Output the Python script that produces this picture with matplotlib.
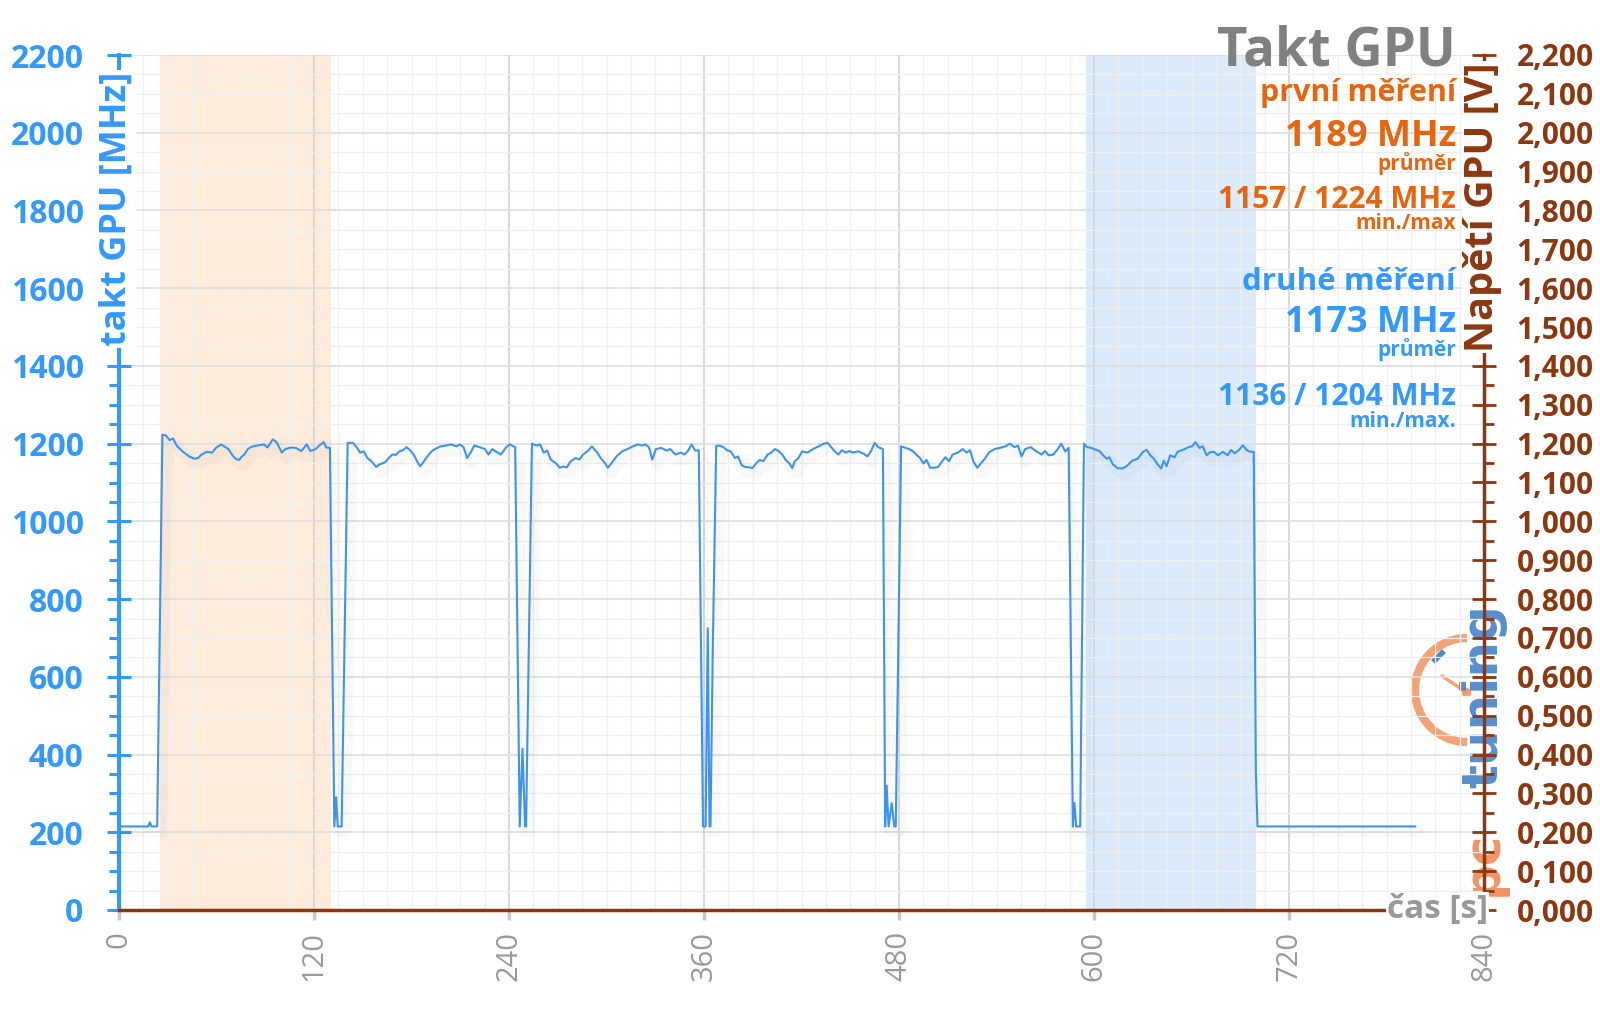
import numpy as np
import matplotlib
matplotlib.use('Agg')
import matplotlib.pyplot as plt
import matplotlib.patheffects as pe
from matplotlib.patches import Arc
from matplotlib.ticker import MultipleLocator, FuncFormatter

plt.rcParams['font.family'] = ['Open Sans', 'DejaVu Sans']

# GPU clock log: idle parts, six load runs and the dips between them
idle0_t = [0, 18, 19, 20, 23.5]
idle0_mhz = [215, 215, 226, 215, 215]

run1_t = [26.7, 28.9, 31.1, 33.3, 35.5, 38.8, 43.2, 46.4, 48.6, 50.8, 54.1, 57.4, 59.6, 62.9, 65.1,
          67.3, 69.5, 71.7, 73.9, 75.6, 77.1, 79.3, 81.5, 84.8, 89.2, 91.4, 94.7, 96.9, 100.2, 102.4,
          105.7, 108.9, 112.2, 115.5, 117.7, 121.0, 123.2, 126.0, 127.6, 129.8]
run1_mhz = [1223, 1221, 1209, 1213, 1195, 1181, 1167, 1161, 1163, 1172, 1179, 1177, 1189, 1198, 1192,
            1186, 1172, 1161, 1158, 1167, 1172, 1186, 1192, 1195, 1198, 1190, 1211, 1204, 1177, 1186,
            1190, 1189, 1181, 1198, 1181, 1186, 1195, 1204, 1190, 1189]
dip1_t = [132.5, 133.6, 134.6, 137.0]
dip1_mhz = [215, 290, 215, 215]

run2_t = [140.7, 144.0, 146.2, 148.4, 150.6, 152.8, 155.0, 158.3, 160.5, 163.8, 166.0, 168.2, 170.3, 172.5,
          174.7, 176.9, 179.1, 181.3, 183.5, 185.3, 186.8, 189.0, 192.3, 194.5, 197.8, 201.1, 204.3, 207.6,
          209.8, 212.0, 214.2, 216.4, 218.6, 221.9, 225.2, 227.4, 229.6, 232.9, 235.0, 238.3, 240.5, 243.8]
run2_mhz = [1202, 1202, 1191, 1177, 1180, 1163, 1156, 1140, 1147, 1152, 1163, 1172, 1171, 1180,
            1183, 1191, 1183, 1172, 1154, 1142, 1149, 1163, 1180, 1186, 1193, 1195, 1198, 1193,
            1198, 1191, 1163, 1177, 1195, 1191, 1186, 1172, 1186, 1177, 1172, 1191, 1198, 1191]
dip2_t = [246.6, 248.3, 249.9, 250.5]
dip2_mhz = [215, 415, 215, 215]

run3_t = [254.1, 257.0, 259.2, 261.3, 263.5, 265.7, 269.0, 271.2, 273.4, 275.6, 277.8, 281.1, 283.3, 285.5,
          288.8, 291.0, 294.3, 296.4, 299.3, 300.8, 303.0, 306.3, 309.6, 312.9, 316.2, 319.5, 321.7, 323.9,
          326.1, 328.2, 330.4, 333.7, 337.0, 339.2, 342.5, 345.8, 348.0, 350.2, 352.4, 354.6, 356.8]
run3_mhz = [1200, 1195, 1198, 1177, 1182, 1159, 1149, 1138, 1141, 1139, 1154, 1163, 1159, 1172,
            1182, 1193, 1177, 1163, 1149, 1138, 1149, 1168, 1180, 1186, 1193, 1198, 1195, 1198,
            1191, 1159, 1186, 1189, 1182, 1186, 1172, 1177, 1172, 1182, 1198, 1182, 1183]
dip3_t = [359.4, 361.0, 362.3, 363.4, 364.0, 365.3]
dip3_mhz = [215, 215, 725, 215, 215, 645]

run4_t = [367.5, 369.7, 371.9, 374.2, 376.4, 379.1, 380.9, 383.1, 385.3, 388.0, 389.8, 392.0, 394.3, 396.5,
          399.2, 401.4, 403.6, 405.9, 408.1, 410.3, 412.6, 414.3, 415.9, 418.1, 420.4, 423.7, 427.1, 430.4,
          433.8, 436.0, 438.2, 440.5, 442.7, 444.9, 447.2, 449.4, 451.6, 455.0, 458.3, 460.5, 462.8, 465.0,
          467.2, 470.1]
run4_mhz = [1194, 1195, 1191, 1183, 1180, 1163, 1167, 1145, 1140, 1139, 1137, 1149, 1158, 1155,
            1172, 1177, 1186, 1181, 1172, 1158, 1149, 1137, 1155, 1163, 1180, 1177, 1186, 1193,
            1200, 1202, 1191, 1180, 1172, 1183, 1177, 1181, 1177, 1180, 1174, 1167, 1181, 1202,
            1191, 1186]
dip4_t = [471.5, 472.4, 473.6, 475.5, 477.1, 478.0]
dip4_mhz = [215, 320, 215, 275, 215, 215]

run5_t = [481.3, 484.0, 486.2, 488.4, 490.7, 492.9, 495.1, 496.9, 499.2, 501.8, 504.1, 506.3, 508.5, 510.8,
          513.0, 516.3, 519.2, 521.5, 523.7, 525.9, 528.2, 530.4, 533.1, 535.3, 538.7, 542.0, 545.4, 548.3,
          551.0, 553.2, 555.4, 557.6, 561.0, 564.3, 567.7, 569.9, 572.1, 575.0, 577.7, 579.9, 582.2, 584.4]
run5_mhz = [1193, 1189, 1186, 1181, 1172, 1163, 1149, 1158, 1138, 1138, 1140, 1153, 1165, 1155,
            1172, 1177, 1186, 1177, 1183, 1153, 1138, 1149, 1163, 1177, 1186, 1189, 1193, 1200,
            1191, 1195, 1167, 1186, 1191, 1181, 1172, 1181, 1170, 1172, 1186, 1200, 1180, 1189]
dip5_t = [587.0, 588.0, 589.0, 591.5]
dip5_mhz = [215, 275, 215, 215]

run6_t = [593.8, 595.6, 598.3, 601.2, 603.4, 605.6, 607.9, 609.4, 611.6, 614.5, 617.5, 620.1, 623.5, 626.8,
          630.2, 632.4, 634.6, 636.9, 639.1, 641.3, 642.9, 644.7, 646.9, 649.6, 651.4, 654.7, 658.1, 660.3,
          662.5, 664.8, 667.0, 669.2, 671.5, 673.7, 676.4, 679.3, 682.2, 684.4, 686.6, 689.3, 691.6, 693.8,
          696.0, 698.3]
run6_mhz = [1200, 1191, 1189, 1184, 1181, 1170, 1161, 1165, 1147, 1137, 1136, 1142, 1156, 1161,
            1179, 1184, 1170, 1161, 1147, 1136, 1156, 1142, 1170, 1165, 1179, 1184, 1191, 1193,
            1204, 1189, 1193, 1170, 1178, 1179, 1170, 1179, 1170, 1184, 1175, 1184, 1196, 1184,
            1179, 1179]
idle1_t = [699.6, 700.6, 797.7]
idle1_mhz = [360, 215, 215]

# highlighted measuring windows [s]
first_window = (25.2, 130.2)
second_window = (595.0, 699.5)

x_ticks = list(range(0, 841, 120))
volt_ticks = [i / 10 for i in range(0, 23)]

blue = '#3399ff'
line_blue = '#3d94f0'
orange = '#e8650f'
brown = '#8c370f'
grey_txt = '#999999'

t = np.concatenate([idle0_t, run1_t, dip1_t, run2_t, dip2_t, run3_t, dip3_t, run4_t,
                    dip4_t, run5_t, dip5_t, run6_t, idle1_t])
mhz = np.concatenate([idle0_mhz, run1_mhz, dip1_mhz, run2_mhz, dip2_mhz, run3_mhz, dip3_mhz, run4_mhz,
                      dip4_mhz, run5_mhz, dip5_mhz, run6_mhz, idle1_mhz])

W, H = 1600, 1009
fig = plt.figure(figsize=(W / 100, H / 100), dpi=100)
fig.patch.set_facecolor('white')

# logo layer, behind the chart, in pixel coordinates
logo = fig.add_axes([0, 0, 1, 1], zorder=-1)
logo.set_xlim(0, W)
logo.set_ylim(H, 0)
logo.axis('off')
logo.add_patch(Arc((1467, 690), 104, 104, theta1=90, theta2=270, color='#f29a68', lw=6, alpha=0.9))
logo.plot([1466, 1442], [692, 676], color='#f29a68', lw=2.5, alpha=0.9, solid_capstyle='round')
logo.plot([1466], [692], 'o', color='#f29a68', ms=6, alpha=0.9)
logo.plot([1435, 1442], [660, 653], color='#3a7cc6', lw=4, alpha=0.9)
logo.text(1483, 896, 'pc', rotation=90, ha='center', va='bottom', fontsize=36, weight='bold',
          color='#f0804a', alpha=0.85, family='DejaVu Sans')
logo.text(1483, 604, 'tuning', rotation=90, ha='center', va='top', fontsize=36, weight='bold',
          color='#3a7cc6', alpha=0.85, family='DejaVu Sans')

ax = fig.add_axes([119 / W, 1 - 910 / H, (1484 - 119) / W, (910 - 55) / H])
ax.set_facecolor('none')
ax.set_xlim(0, 840)
ax.set_ylim(0, 2200)

ax.axvspan(*first_window, color='#fdebdb', lw=0, zorder=0.5)
ax.axvspan(*second_window, color='#dcebfc', lw=0, zorder=0.5)

ax.plot(t, mhz, color=line_blue, lw=1.5, zorder=3,
        path_effects=[pe.SimpleLineShadow(offset=(3, -4), shadow_color='k', alpha=0.025, linewidth=8),
                      pe.Normal()])

ax.xaxis.set_major_locator(MultipleLocator(120))
ax.xaxis.set_minor_locator(MultipleLocator(15))
ax.yaxis.set_major_locator(MultipleLocator(200))
ax.yaxis.set_minor_locator(MultipleLocator(50))
ax.grid(which='major', axis='x', color='#d6d6d6', lw=1.3)
ax.grid(which='major', axis='y', color='#dedede', lw=1.2)
ax.grid(which='minor', color='#efefef', lw=0.9)

for s in ['top', 'right']:
    ax.spines[s].set_visible(False)
ax.spines['left'].set_color(blue)
ax.spines['left'].set_linewidth(3)
ax.spines['bottom'].set_color(brown)
ax.spines['bottom'].set_linewidth(2.5)

ax.tick_params(axis='y', which='major', direction='inout', length=17, width=2.2, color=blue,
               labelsize=23, labelcolor=blue, pad=17)
ax.tick_params(axis='y', which='minor', direction='out', length=7, width=2.2, color=blue)
for lab in ax.get_yticklabels():
    lab.set_fontweight('bold')
ax.tick_params(axis='x', which='major', direction='out', length=7, width=2.5, color='#c8c8c8',
               labelsize=21, labelcolor=grey_txt, pad=8, labelrotation=90)
ax.tick_params(axis='x', which='minor', length=0)
ax.set_xticks(x_ticks)

ax2 = ax.twinx()
ax2.set_ylim(0, 2.2)
ax2.set_yticks(volt_ticks)
ax2.yaxis.set_minor_locator(MultipleLocator(0.05))
ax2.yaxis.set_major_formatter(FuncFormatter(lambda v, p: f'{v:.3f}'.replace('.', ',')))
for s in ['top', 'left', 'bottom']:
    ax2.spines[s].set_visible(False)
ax2.spines['right'].set_color(brown)
ax2.spines['right'].set_linewidth(2.5)
ax2.tick_params(axis='y', which='major', direction='inout', length=17, width=2, color=brown,
                labelsize=21.5, labelcolor=brown, pad=15)
ax2.tick_params(axis='y', which='minor', direction='out', length=7, width=2, color=brown)
for lab in ax2.get_yticklabels():
    lab.set_fontweight('bold')

# axis titles sit on the spines with a white box
ax.text(117 / W, 1 - 209 / H, 'takt GPU [MHz]', transform=fig.transFigure, rotation=90,
        ha='center', va='center', fontsize=26, weight='bold', color=blue, zorder=10,
        bbox=dict(facecolor='white', edgecolor='none', pad=1))
ax2.text(1483 / W, 1 - 207 / H, 'Napětí GPU [V]', transform=fig.transFigure, rotation=90,
         ha='center', va='center', fontsize=28.5, weight='bold', color=brown, zorder=10,
         bbox=dict(facecolor='white', edgecolor='none', pad=1))
fig.text(1488 / W, 1 - 910 / H, 'čas [s]', ha='right', va='center', fontsize=24, weight='bold',
         color=grey_txt, bbox=dict(facecolor='white', edgecolor='none', pad=1))

# summary block, top right
notes = [
    ('Takt GPU', 65, 38, '#808080'),
    ('první měření', 101, 22, orange),
    ('1189 MHz', 146, 26, orange),
    ('průměr', 170, 15, orange),
    ('1157 / 1224 MHz', 208, 21.5, orange),
    ('min./max', 229, 15, orange),
    ('druhé měření', 290, 22.5, blue),
    ('1173 MHz', 332, 26, blue),
    ('průměr', 356, 15, blue),
    ('1136 / 1204 MHz', 405, 21.5, blue),
    ('min./max.', 427, 15, blue),
]
for txt, yb, fs, col in notes:
    fig.text(1456 / W, 1 - yb / H, txt, ha='right', va='baseline', fontsize=fs, weight='bold', color=col)

fig.savefig('out.png', dpi=100, facecolor='white')
